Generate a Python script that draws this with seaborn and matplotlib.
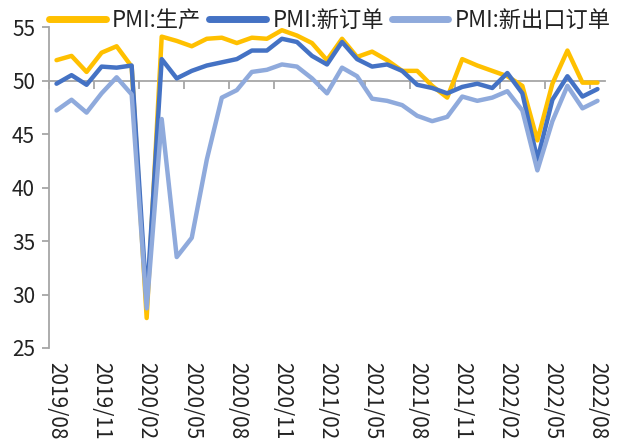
import numpy as np
import pandas as pd
import matplotlib
matplotlib.use("Agg")
import matplotlib.pyplot as plt
import seaborn as sns

months = [p.strftime("%Y/%m") for p in pd.period_range("2019-08", "2022-08", freq="M")]
tick_labels = ["2019/08", "2019/11", "2020/02", "2020/05", "2020/08", "2020/11", "2021/02",
               "2021/05", "2021/08", "2021/11", "2022/02", "2022/05", "2022/08"]

production = [51.9, 52.3, 50.8, 52.6, 53.2, 51.3, 27.8, 54.1, 53.7, 53.2, 53.9, 54.0, 53.5,
              54.0, 53.9, 54.7, 54.2, 53.5, 51.9, 53.9, 52.2, 52.7, 51.9, 50.9, 50.9, 49.5,
              48.4, 52.0, 51.4, 50.9, 50.4, 49.5, 44.4, 49.7, 52.8, 49.8, 49.8]
new_orders = [49.7, 50.5, 49.6, 51.3, 51.2, 51.4, 29.3, 52.0, 50.2, 50.9, 51.4, 51.7, 52.0,
              52.8, 52.8, 53.9, 53.6, 52.3, 51.5, 53.6, 52.0, 51.3, 51.5, 50.9, 49.6, 49.3,
              48.8, 49.4, 49.7, 49.3, 50.7, 48.8, 42.6, 48.2, 50.4, 48.5, 49.2]
export_orders = [47.2, 48.2, 47.0, 48.8, 50.3, 48.7, 28.7, 46.4, 33.5, 35.3, 42.6, 48.4, 49.1,
                 50.8, 51.0, 51.5, 51.3, 50.2, 48.8, 51.2, 50.4, 48.3, 48.1, 47.7, 46.7, 46.2,
                 46.6, 48.5, 48.1, 48.4, 49.0, 47.2, 41.6, 46.2, 49.5, 47.4, 48.1]
series_names = ["PMI:生产", "PMI:新订单", "PMI:新出口订单"]
colors = ["#FFC000", "#4472C4", "#8FAADC"]

sns.set_style("ticks")
plt.rcParams["font.family"] = ["Noto Sans CJK SC", "DejaVu Sans"]

idx = np.arange(len(months))
df = pd.concat([
    pd.DataFrame({"x": idx, "month": months, "value": vals, "series": name})
    for name, vals in zip(series_names, [production, new_orders, export_orders])
], ignore_index=True)

W, H = 622, 445
fig = plt.figure(figsize=(W / 100, H / 100), dpi=100)
ax = fig.add_axes([49 / W, 1 - 348 / H, (605 - 49) / W, (348 - 27) / H])

sns.lineplot(data=df, x="x", y="value", hue="series", hue_order=series_names,
             palette=colors, linewidth=3.2, sort=False, ax=ax, legend=True)

handles, labels = ax.get_legend_handles_labels()
ax.get_legend().remove()

gray = "#A6A6A6"
ax.set_xlim(-0.5, len(months) - 0.5)
ax.set_ylim(25, 55)
ax.set_yticks(np.arange(25, 56, 5))
ax.set_xlabel("")
ax.set_ylabel("")

# horizontal axis crossing at 50, with ticks between categories
ax.spines["bottom"].set_position(("data", 50))
ax.spines["bottom"].set_color(gray)
ax.spines["bottom"].set_linewidth(1.3)
ax.spines["bottom"].set_zorder(0.5)
ax.spines["left"].set_color(gray)
ax.spines["left"].set_linewidth(1.3)
ax.spines["top"].set_visible(False)
ax.spines["right"].set_visible(False)
ax.set_xticks(np.arange(-0.5, len(months), 3))
ax.set_xticklabels([])
ax.tick_params(axis="x", length=6, width=1.3, color=gray, direction="out")
ax.tick_params(axis="y", length=5, width=1.3, color=gray, labelsize=15, pad=5,
               labelcolor="#222222")

sec = ax.secondary_xaxis("bottom")
sec.spines["bottom"].set_visible(False)
sec.set_xticks([months.index(t) for t in tick_labels])
sec.set_xticklabels(tick_labels, rotation=-90, fontsize=15, color="#222222")
sec.tick_params(length=0, pad=10)

leg = fig.legend(handles, labels, loc="center", bbox_to_anchor=(330 / W, 1 - 20 / H),
                 ncol=3, frameon=False, fontsize=16, handlelength=2.55,
                 handletextpad=0.3, columnspacing=0.35, borderaxespad=0)
for line in leg.get_lines():
    line.set_linewidth(5)
    line.set_solid_capstyle("round")
for t in leg.get_texts():
    t.set_color("#222222")

fig.savefig("out.png", dpi=100)
